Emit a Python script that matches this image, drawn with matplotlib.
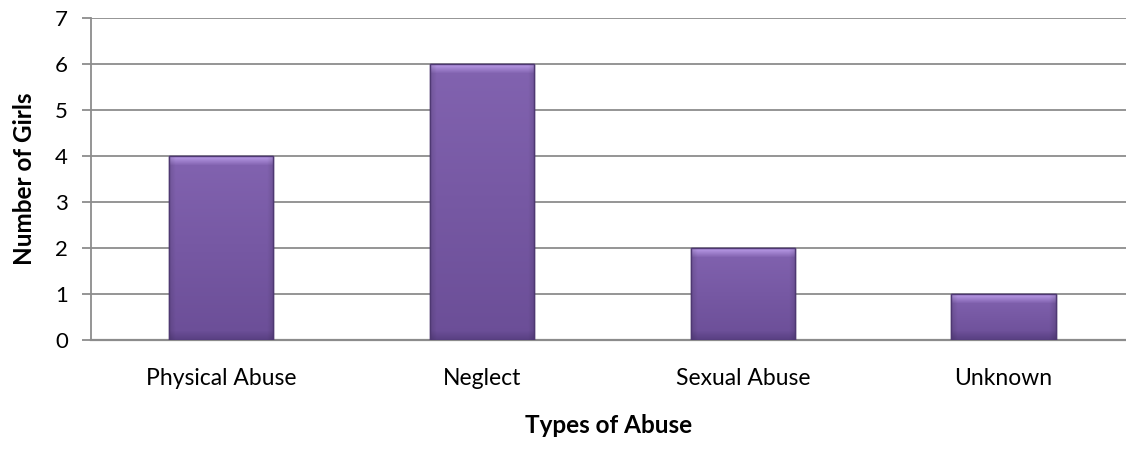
import numpy as np
import matplotlib.pyplot as plt
from matplotlib.colors import to_rgb

categories = ["Physical Abuse", "Neglect", "Sexual Abuse", "Unknown"]
girls = [4, 6, 2, 1]

plt.rcParams['font.family'] = ['Lato', 'DejaVu Sans']

fig = plt.figure(figsize=(11.26, 4.49), dpi=100)
ax = fig.add_axes([0.0808, 0.2428, 0.9192, 0.7171])

x = np.arange(len(categories))
bars = ax.bar(x, girls, width=0.40, color="#7658a1", edgecolor="#4e3872", linewidth=1.0, zorder=3)

ax.set_xlim(-0.5, len(categories) - 0.53)
ax.set_ylim(0, 7)

# bevelled look: light band on top, darker band at the bottom and sides
px_per_unit = 322 / 7.0
top_c = np.array(to_rgb("#c4a6f2"))
body_top = np.array(to_rgb("#8263b0"))
body_bot = np.array(to_rgb("#6b4e97"))
bot_c = np.array(to_rgb("#553d7e"))
for b in bars:
    bx, by = b.get_x(), b.get_y()
    w, h = b.get_width(), b.get_height()
    rows = max(int(h * px_per_unit), 20)
    cols = 100
    r = np.arange(rows)[:, None]
    t = r / (rows - 1)
    col = body_top + (body_bot - body_top) * t
    img = np.repeat(col[:, None, :], cols, axis=1).reshape(rows, cols, 3)
    band = 9
    for i in range(band):
        f = 1 - i / band
        img[i] = img[i] * (1 - f * 0.85) + top_c * f * 0.85
        j = rows - 1 - i
        img[j] = img[j] * (1 - f * 0.8) + bot_c * f * 0.8
    cidx = np.arange(cols)
    edge = np.minimum(cidx, cols - 1 - cidx)
    shade = np.clip(1 - edge / 6.0, 0, 1) * 0.12
    img = img * (1 - shade[None, :, None])
    im = ax.imshow(np.clip(img, 0, 1), extent=[bx, bx + w, by, by + h], aspect="auto",
                   origin="upper", zorder=3.5, interpolation="bilinear")
    im.set_clip_path(b)
    ax.bar(bx + w / 2, h, width=w, fill=False, edgecolor="#4e3872", linewidth=1.0, zorder=4)

ax.set_xlim(-0.5, len(categories) - 0.53)
ax.set_ylim(0, 7)
ax.set_yticks(range(0, 8))
ax.set_xticks(x)
ax.set_xticklabels(categories)
ax.yaxis.grid(True, color="#8c8c8c", linewidth=1.3, zorder=0)
ax.set_axisbelow(True)

for s in ["top", "right"]:
    ax.spines[s].set_visible(False)
ax.spines["left"].set_color("#8c8c8c")
ax.spines["bottom"].set_color("#8c8c8c")
ax.spines["left"].set_linewidth(1.3)
ax.spines["bottom"].set_linewidth(1.6)
ax.tick_params(axis="y", length=6.5, width=1.3, color="#8c8c8c", labelsize=16, pad=10)
ax.tick_params(axis="x", length=0, labelsize=16.5, pad=20)

ax.set_ylabel("Number of Girls", fontsize=17.5, fontweight="bold", labelpad=14)
ax.set_xlabel("Types of Abuse", fontsize=17.5, fontweight="bold", labelpad=18)

fig.savefig("out.png", dpi=100)
